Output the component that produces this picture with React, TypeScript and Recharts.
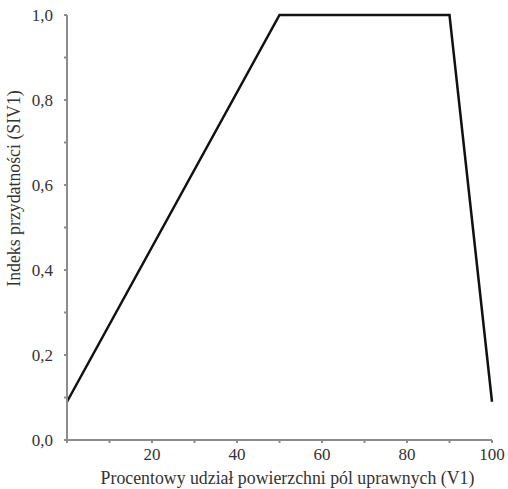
import React from 'react'
import { LineChart, Line, XAxis, YAxis, Label } from 'recharts'

const xValues = [0, 50, 90, 100]
const yValues = [0.09, 1.0, 1.0, 0.09]
const xTicks = [0, 10, 20, 30, 40, 50, 60, 70, 80, 90, 100]
const yTicks = [0, 0.1, 0.2, 0.3, 0.4, 0.5, 0.6, 0.7, 0.8, 0.9, 1.0]
const xTitle = 'Procentowy udział powierzchni pól uprawnych (V1)'
const yTitle = 'Indeks przydatności (SIV1)'

const data = xValues.map((x, i) => ({ x, y: yValues[i] }))

const font = '"Liberation Serif", "DejaVu Serif", serif'
const axisColor = '#8c8c8c'
const textColor = '#333'

const fmtX = (v: number) => (v !== 0 && v % 20 === 0 ? String(v) : '')
const fmtY = (v: number) => (Math.round(v * 10) % 2 === 0 ? v.toFixed(1).replace('.', ',') : '')

const renderXTick = (props: any) => (
	<text key={'x' + props.payload.value} x={props.x} y={460} textAnchor='middle' fill={textColor} fontSize={17} fontFamily={font}>
		{fmtX(props.payload.value)}
	</text>
)

const renderYTick = (props: any) => (
	<text key={'y' + props.payload.value} x={53} y={props.y + 6} textAnchor='end' fill={textColor} fontSize={17} fontFamily={font}>
		{fmtY(props.payload.value)}
	</text>
)

const App = () => {
	return (
		<div style={{ position: 'absolute', left: 0, top: 0, background: '#fff' }}>
			<LineChart width={508} height={489} data={data} margin={{ top: 15, right: 16, bottom: 0, left: 0 }}>
				<XAxis
					dataKey='x'
					type='number'
					domain={[0, 100]}
					ticks={xTicks}
					interval={0}
					height={49}
					stroke={axisColor}
					strokeWidth={2}
					tickSize={3}
					tick={renderXTick}
				>
					<Label value={xTitle} position='insideBottom' offset={5} dx={8} style={{ fill: textColor, fontSize: 17.8, fontFamily: font }} />
				</XAxis>
				<YAxis
					dataKey='y'
					type='number'
					domain={[0, 1]}
					ticks={yTicks}
					interval={0}
					width={67}
					stroke={axisColor}
					strokeWidth={2}
					tickSize={3}
					tick={renderYTick}
				>
					<Label value={yTitle} angle={-90} position='center' dx={-20} dy={-39} style={{ fill: textColor, fontSize: 17.8, fontFamily: font, textAnchor: 'middle' }} />
				</YAxis>
				<Line type='linear' dataKey='y' stroke='#111' strokeWidth={2.5} dot={false} isAnimationActive={false} />
			</LineChart>
		</div>
	)
}

export default App
